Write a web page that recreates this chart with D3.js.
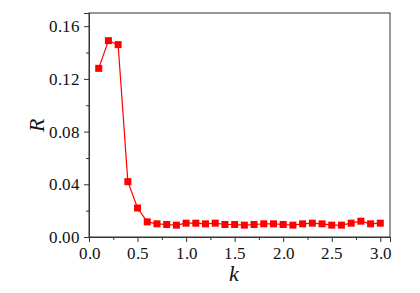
<!DOCTYPE html>
<html><head><meta charset="utf-8">
<script src="https://cdn.jsdelivr.net/npm/d3@7"></script>
<style>
@font-face{font-family:"MySerif";src:local("Liberation Serif"),local("LiberationSerif"),local("LiberationSerif-Regular"),local("DejaVu Serif"),local("DejaVuSerif");font-style:normal;}
@font-face{font-family:"MySerif";src:local("Liberation Serif Italic"),local("LiberationSerif-Italic"),local("DejaVu Serif Italic"),local("DejaVuSerif-Italic");font-style:italic;}
body{margin:0;background:#fff}
</style>
</head><body><svg id="c" width="420" height="293"></svg>
<script>
const kValues = [0.1,0.2,0.3,0.4,0.5,0.6,0.7,0.8,0.9,1.0,1.1,1.2,1.3,1.4,1.5,1.6,1.7,1.8,1.9,2.0,2.1,2.2,2.3,2.4,2.5,2.6,2.7,2.8,2.9,3.0];
const rValues = [0.128,0.149,0.146,0.042,0.022,0.0115,0.010,0.0095,0.009,0.0105,0.0105,0.010,0.0105,0.0095,0.0095,0.009,0.0095,0.010,0.010,0.0095,0.009,0.010,0.0105,0.010,0.009,0.009,0.0105,0.012,0.010,0.0105];
const xTicks = [0,0.5,1.0,1.5,2.0,2.5,3.0];
const yTicks = [0,0.04,0.08,0.12,0.16];

const FONT = "MySerif, 'Liberation Serif', 'Times New Roman', Times, 'DejaVu Serif', serif";
const svg = d3.select("#c");
const m = {l:89, t:13, r:390, b:237};
const x = d3.scaleLinear().domain([0,3.1]).range([m.l,m.r]);
const y = d3.scaleLinear().domain([0,0.17]).range([m.b,m.t]);

svg.append("rect").attr("x",m.l).attr("y",m.t).attr("width",m.r-m.l).attr("height",m.b-m.t)
  .attr("fill","none").attr("stroke","#333").attr("stroke-width",1);

const xMinor = d3.range(0.25,3.1,0.5);
const yMinor = d3.range(0.02,0.17,0.04);
const gx = svg.append("g").attr("transform",`translate(0,${m.b})`);
gx.call(d3.axisBottom(x).tickValues(xTicks).tickFormat(d3.format(".1f")).tickSize(5).tickPadding(5));
gx.append("g").call(d3.axisBottom(x).tickValues(xMinor).tickFormat("").tickSize(3));
const gy = svg.append("g").attr("transform",`translate(${m.l},0)`);
gy.call(d3.axisLeft(y).tickValues(yTicks).tickFormat(d3.format(".2f")).tickSize(5).tickPadding(4));
gy.append("g").call(d3.axisLeft(y).tickValues(yMinor).tickFormat("").tickSize(3));
svg.selectAll("g").attr("font-family",FONT).attr("font-size",17);
svg.selectAll(".domain").attr("stroke","#333");
svg.selectAll(".tick line").attr("stroke","#333");
svg.selectAll(".tick text").style("font-family",FONT).style("font-size","17px").attr("fill","#111");

const pts = kValues.map((k,i)=>[k,rValues[i]]);
svg.append("path").datum(pts).attr("fill","none").attr("stroke","#ff0000").attr("stroke-width",1.2)
  .attr("d",d3.line().x(d=>x(d[0])).y(d=>y(d[1])));
svg.selectAll("rect.pt").data(pts).enter().append("rect").attr("class","pt")
  .attr("x",d=>x(d[0])-3.5).attr("y",d=>y(d[1])-3.5).attr("width",7).attr("height",7).attr("fill","#ff0000");

svg.append("text").attr("x",234).attr("y",281).attr("text-anchor","middle").style("font-family",FONT).style("font-size","22px")
  .style("font-style","italic").attr("fill","#111").text("k");
svg.append("text").attr("transform","translate(44,125) rotate(-90)").attr("text-anchor","middle").style("font-family",FONT).style("font-size","22px")
  .style("font-style","italic").attr("fill","#111").text("R");
</script></body></html>
